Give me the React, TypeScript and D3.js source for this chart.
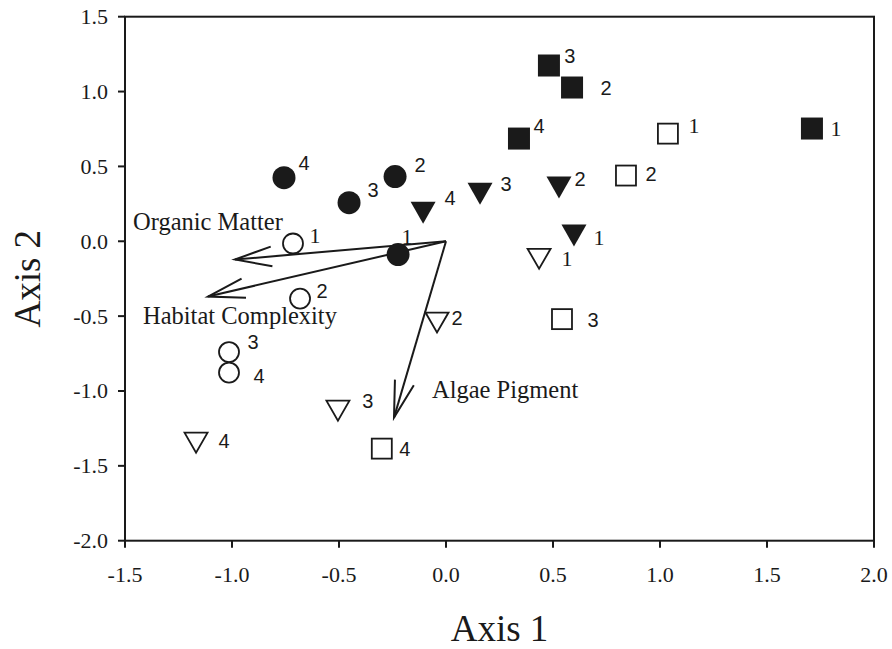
import React from 'react';
import * as d3 from 'd3';

// ---- data ----
const pointLabels = ['1', '2', '3', '4'];

const filledCircleAxis1 = [-0.224, -0.238, -0.453, -0.757];
const filledCircleAxis2 = [-0.089, 0.432, 0.258, 0.425];

const openCircleAxis1 = [-0.715, -0.682, -1.014, -1.014];
const openCircleAxis2 = [-0.015, -0.383, -0.74, -0.877];

const filledSquareAxis1 = [1.71, 0.589, 0.481, 0.341];
const filledSquareAxis2 = [0.753, 1.027, 1.174, 0.686];

const openSquareAxis1 = [1.037, 0.841, 0.542, -0.3];
const openSquareAxis2 = [0.719, 0.439, -0.52, -1.385];

const filledTriangleAxis1 = [0.598, 0.528, 0.159, -0.107];
const filledTriangleAxis2 = [0.038, 0.359, 0.318, 0.19];

const openTriangleAxis1 = [0.435, -0.042, -0.505, -1.168];
const openTriangleAxis2 = [-0.117, -0.543, -1.131, -1.345];

const vectorNames = ['Organic Matter', 'Habitat Complexity', 'Algae Pigment'];
const vectorAxis1 = [-0.986, -1.112, -0.243];
const vectorAxis2 = [-0.122, -0.369, -1.178];

const xTickValues = [-1.5, -1.0, -0.5, 0.0, 0.5, 1.0, 1.5, 2.0];
const yTickValues = [1.5, 1.0, 0.5, 0.0, -0.5, -1.0, -1.5, -2.0];

// ---- layout / style (not data) ----
type Shape = 'circle' | 'square' | 'triangle';
const seriesDefs: { shape: Shape; filled: boolean; a1: number[]; a2: number[]; offsets: [number, number][] }[] = [
  { shape: 'circle', filled: true, a1: filledCircleAxis1, a2: filledCircleAxis2, offsets: [[9, -18], [25, -12], [24, -13], [20, -15]] },
  { shape: 'circle', filled: false, a1: openCircleAxis1, a2: openCircleAxis2, offsets: [[22, -8], [22, -8], [24, -10], [30, 3]] },
  { shape: 'square', filled: true, a1: filledSquareAxis1, a2: filledSquareAxis2, offsets: [[24, 0], [34, 0], [21, -10], [20, -13]] },
  { shape: 'square', filled: false, a1: openSquareAxis1, a2: openSquareAxis2, offsets: [[26, -8], [25, -2], [31, 1], [23, 0]] },
  { shape: 'triangle', filled: true, a1: filledTriangleAxis1, a2: filledTriangleAxis2, offsets: [[25, 2], [21, -9], [26, -10], [27, -15]] },
  { shape: 'triangle', filled: false, a1: openTriangleAxis1, a2: openTriangleAxis2, offsets: [[28, 0], [20, -5], [30, -10], [28, -2]] },
];

const vectorLabelPos: [number, number][] = [[133, 230], [143, 324], [432, 398]];

const SERIF = '"Liberation Serif", "Times New Roman", Times, serif';
const SANS = '"Liberation Sans", Arial, Helvetica, sans-serif';
const INK = '#1a1a1a';

export default function App() {
  const W = 892;
  const H = 649;
  const x = d3.scaleLinear().domain([-1.5, 2.0]).range([125, 874]);
  const y = d3.scaleLinear().domain([-2.0, 1.5]).range([540.7, 16.7]);
  const fmt0 = d3.format('.1f');
  const fmt = (v: number) => fmt0(v).replace('\u2212', '-');
  const [x0, x1] = x.range();
  const [y0, y1] = y.range();

  const markers: React.ReactNode[] = [];
  const labels: React.ReactNode[] = [];
  seriesDefs.forEach((s, si) => {
    s.a1.forEach((v, i) => {
      const cx = x(v);
      const cy = y(s.a2[i]);
      const fill = s.filled ? INK : 'none';
      const sw = s.filled ? 0 : 1.8;
      const key = `${si}-${i}`;
      if (s.shape === 'circle') {
        const r = s.filled ? 11.5 : 10;
        markers.push(<circle key={key} cx={cx} cy={cy} r={r} fill={fill} stroke={INK} strokeWidth={sw} />);
      } else if (s.shape === 'square') {
        const h = s.filled ? 11 : 10;
        markers.push(<rect key={key} x={cx - h} y={cy - h} width={2 * h} height={2 * h} fill={fill} stroke={INK} strokeWidth={sw} />);
      } else {
        const hw = s.filled ? 12.5 : 11.5;
        const hh = s.filled ? 11 : 10;
        const pts = [[cx - hw, cy - hh], [cx + hw, cy - hh], [cx, cy + hh]].map((p) => p.join(',')).join(' ');
        markers.push(<polygon key={key} points={pts} fill={fill} stroke={INK} strokeWidth={sw} strokeLinejoin="miter" />);
      }
      const lab = pointLabels[i];
      labels.push(
        <text
          key={'l' + key}
          x={cx + s.offsets[i][0]}
          y={cy + s.offsets[i][1]}
          textAnchor="middle"
          dominantBaseline="central"
          fontFamily={lab === '1' ? SERIF : SANS}
          fontSize={lab === '1' ? 22 : 20}
          fill={INK}
        >
          {lab}
        </text>
      );
    });
  });

  const ox = x(0);
  const oy = y(0);
  const headLen = 38;
  const headAng = (15 * Math.PI) / 180;

  return (
    <svg
      width={W}
      height={H}
      viewBox={`0 0 ${W} ${H}`}
      style={{ position: 'absolute', left: 0, top: 0, background: '#fff' }}
    >
      <rect x={0} y={0} width={W} height={H} fill="#fff" />
      {/* frame */}
      <rect x={x0} y={y1} width={x1 - x0} height={y0 - y1} fill="none" stroke={INK} strokeWidth={2} />
      {/* x ticks */}
      {xTickValues.map((t) => (
        <g key={'xt' + t}>
          <line x1={x(t)} x2={x(t)} y1={y0} y2={y0 + 7} stroke={INK} strokeWidth={2} />
          <text x={x(t)} y={582} textAnchor="middle" fontFamily={SERIF} fontSize={22} fill={INK}>
            {fmt(t)}
          </text>
        </g>
      ))}
      {/* y ticks */}
      {yTickValues.map((t) => (
        <g key={'yt' + t}>
          <line x1={x0 - 7} x2={x0} y1={y(t)} y2={y(t)} stroke={INK} strokeWidth={2} />
          <text x={108} y={y(t)} textAnchor="end" dominantBaseline="central" fontFamily={SERIF} fontSize={22} fill={INK}>
            {fmt(t)}
          </text>
        </g>
      ))}
      {/* axis titles */}
      <text x={(x0 + x1) / 2} y={641} textAnchor="middle" fontFamily={SERIF} fontSize={37} fill={INK}>
        Axis 1
      </text>
      <text
        transform={`translate(40, ${(y0 + y1) / 2}) rotate(-90)`}
        textAnchor="middle"
        fontFamily={SERIF}
        fontSize={37}
        fill={INK}
      >
        Axis 2
      </text>
      {/* vectors */}
      {vectorNames.map((name, i) => {
        const tx = x(vectorAxis1[i]);
        const ty = y(vectorAxis2[i]);
        const a = Math.atan2(oy - ty, ox - tx);
        const h1 = [tx + headLen * Math.cos(a + headAng), ty + headLen * Math.sin(a + headAng)];
        const h2 = [tx + headLen * Math.cos(a - headAng), ty + headLen * Math.sin(a - headAng)];
        return (
          <g key={name}>
            <line x1={ox} y1={oy} x2={tx} y2={ty} stroke={INK} strokeWidth={2} />
            <polyline
              points={`${h1[0]},${h1[1]} ${tx},${ty} ${h2[0]},${h2[1]}`}
              fill="none"
              stroke={INK}
              strokeWidth={2}
              strokeLinejoin="miter"
            />
            <text x={vectorLabelPos[i][0]} y={vectorLabelPos[i][1]} fontFamily={SERIF} fontSize={24.5} fill={INK}>
              {name}
            </text>
          </g>
        );
      })}
      {markers}
      {labels}
    </svg>
  );
}
